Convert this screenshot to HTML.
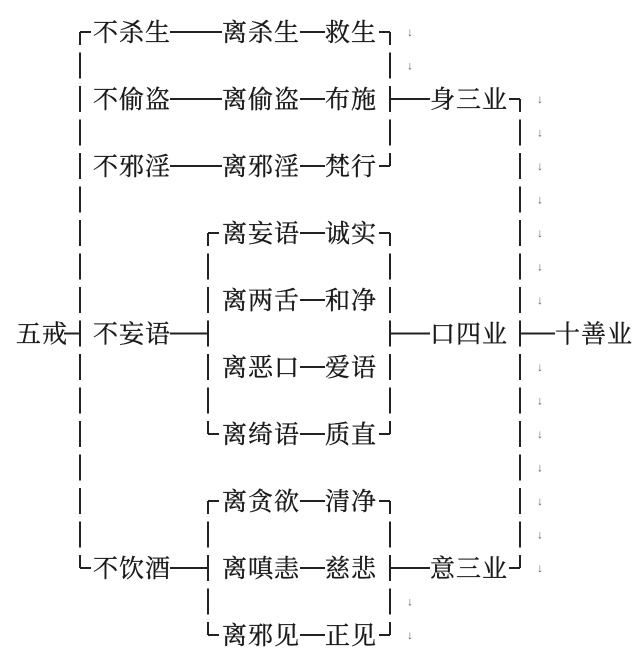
<!DOCTYPE html>
<html><head><meta charset="utf-8"><style>
html,body{margin:0;padding:0;background:#fff;width:640px;height:668px;overflow:hidden}
svg{display:block}
text{font-family:"Liberation Serif","Noto Serif CJK SC",serif;font-size:25px;fill:#1a1a1a;letter-spacing:1px;stroke:#1a1a1a;stroke-width:0.35px}
.ar{font-size:12px;fill:#666;stroke:none;letter-spacing:0}
</style></head><body>
<svg id="s" width="640" height="668" xmlns="http://www.w3.org/2000/svg"></svg>
<script>
var s=document.getElementById('s'),o='';
function Y(i){return 32+i*33.5}
function L(x1,y1,x2,y2){o+='<line x1="'+x1+'" y1="'+y1+'" x2="'+x2+'" y2="'+y2+'" stroke="#222" stroke-width="2"/>';}
function T(x,i,t){o+='<text x="'+x+'" y="'+(Y(i)+9)+'">'+t+'</text>';}
function A(x,i){o+='<text class="ar" x="'+x+'" y="'+(Y(i)+4)+'">↓</text>';}
function col(x,a,b,side){
 for(var i=a;i<=b;i++){var y=Y(i);
  var t=(i==a)?y:y-13,bt=(i==b)?y:y+13; L(x,t,x,bt);}
 var d=side=='L'?11:-11;
 L(x,Y(a),x+d,Y(a)); L(x,Y(b),x+d,Y(b));
}
col(80,0,16,'L'); L(64,Y(9),80,Y(9));
col(390,0,4,'R'); L(390,Y(2),430,Y(2));
col(208,6,12,'L'); L(170,Y(9),208,Y(9));
col(390,6,12,'R'); L(390,Y(9),430,Y(9));
col(208,14,18,'L'); L(170,Y(16),208,Y(16));
col(390,14,18,'R'); L(390,Y(16),430,Y(16));
col(520,2,16,'R'); L(520,Y(9),555,Y(9));
T(16,9,'五戒');
T(93,0,'不杀生');T(93,2,'不偷盗');T(93,4,'不邪淫');T(93,9,'不妄语');T(93,16,'不饮酒');
[0,2,4].forEach(function(i){L(170,Y(i),222,Y(i));L(300,Y(i),325,Y(i));});
T(222,0,'离杀生');T(325,0,'救生');
T(222,2,'离偷盗');T(325,2,'布施');
T(222,4,'离邪淫');T(325,4,'梵行');
var g=[[6,'离妄语','诚实'],[8,'离两舌','和净'],[10,'离恶口','爱语'],[12,'离绮语','质直'],[14,'离贪欲','清净'],[16,'离嗔恚','慈悲'],[18,'离邪见','正见']];
g.forEach(function(r){T(222,r[0],r[1]);T(325,r[0],r[2]);L(300,Y(r[0]),325,Y(r[0]));});
T(430,2,'身三业');T(430,9,'口四业');T(430,16,'意三业');T(555,9,'十善业');
[0,1,17,18].forEach(function(i){A(407,i);});
for(var i=2;i<=16;i++){if(i!=9)A(537,i);}
s.innerHTML=o;
</script>
</body></html>
